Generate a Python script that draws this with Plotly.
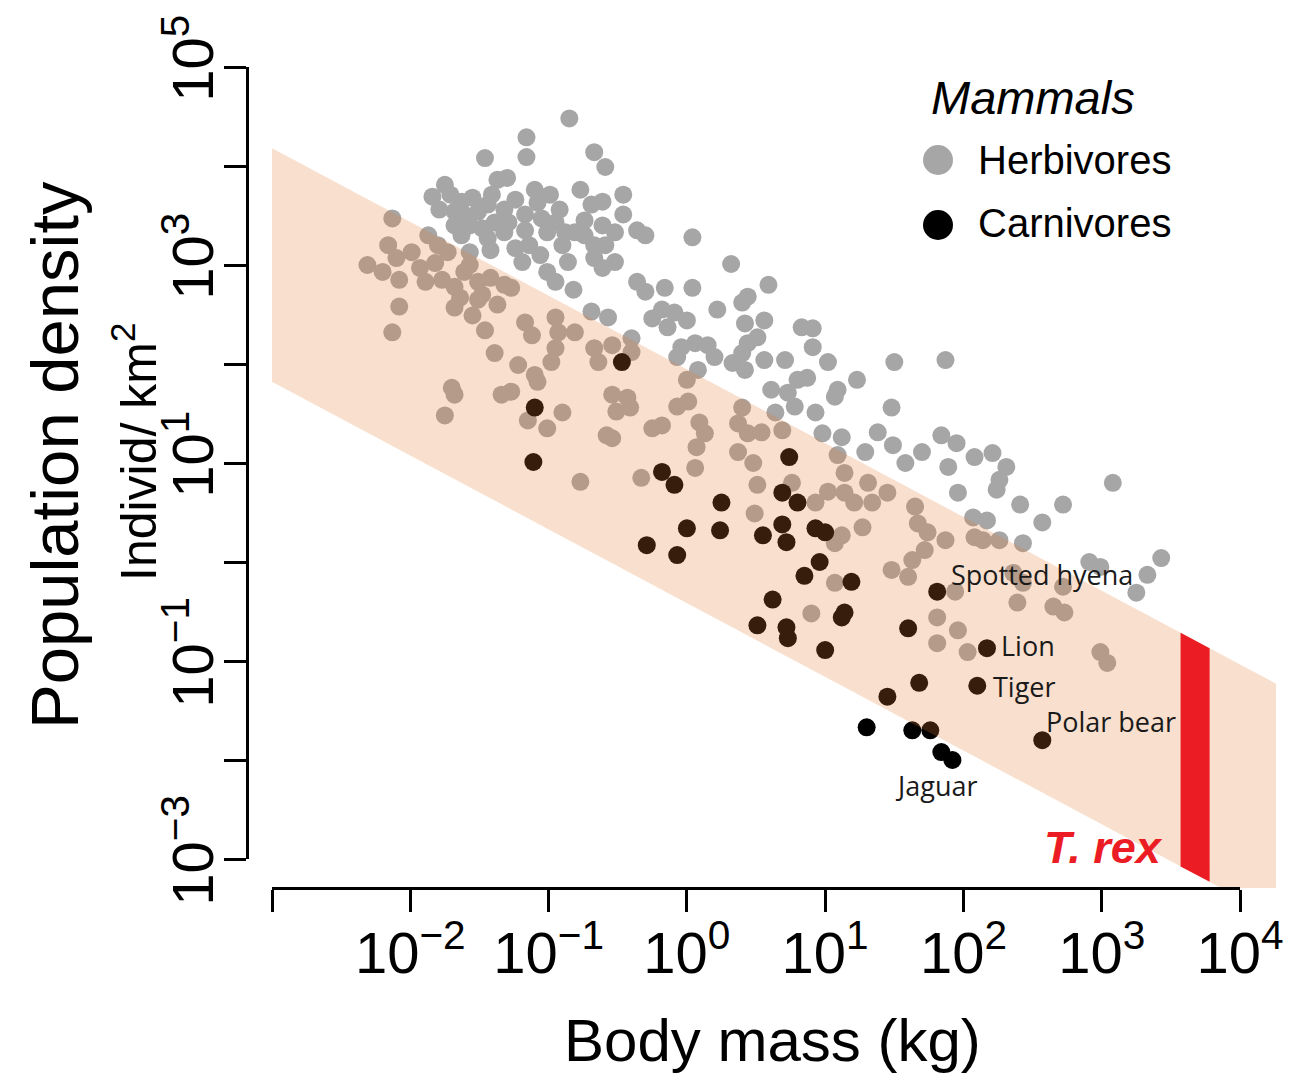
import plotly.graph_objects as go

W, H = 1306, 1074
PAGE_OFFSET = 8  # default body margin of the html page

# ---------------- data (log10 values) ----------------
herb_log_mass = (
    [-1.46, -1.75, -1.84, -1.37, -1.63, -1.55, -1.68, -1.61, -1.44, -1.41, -1.63, -1.48, -1.39]
    + [-1.79, -1.71, -1.51, -1.32, -1.57, -1.44, -1.32, -1.68, -1.57, -1.42, -1.17, -1.10, -0.99, -0.77, -0.74, -0.52, -0.74, -0.95, -1.14, -1.06]
    + [-2.13, -2.16, -1.87, -1.80, -1.73]
    + [-0.85, -1.16, -1.16, -0.67, -0.59, -1.30, -0.46, -1.24, -1.08, -0.92, -0.69, -0.61, -0.61, -0.46, -0.36, -0.30, -1.29, -1.17, -1.05, -1.01, -0.88, -0.81, -0.90, -0.67, -0.59, -1.24]
    + [-1.19, -1.01, -0.86, -0.67, -0.52, -0.61, -0.36, -0.30, -0.25, -0.82, -0.69, -0.57, -0.40, -0.95]
    + [-1.27, -1.17, -1.12, -0.95, -0.93, -0.81, -0.95, -0.98, -0.67, -0.64, -0.54, -0.40, -1.22, -1.10, -1.08, -1.27, -0.54, -0.43]
    + [-2.31, -2.20, -2.08, -2.08, -2.13, -2.10, -1.93, -1.82, -1.77, -1.68, -1.68, -1.55, -1.51, -1.48, -1.46, -1.39, -1.70, -1.68, -1.34, -1.37, -1.57]
    + [-1.99, -1.89, -1.61, -1.42, -1.32, -1.64, -1.51]
    + [0.04, 0.32, -0.16, 0.04, 0.22, 0.44, 0.59, 0.40, -0.18, -0.09, 0.00, 0.42, 0.56, 0.51, 0.44, 0.06, 0.15, -0.04, 0.83, -0.14]
    + [0.91, 0.91, 1.02, 1.50, 1.87, 1.23, 1.09, 1.07, 0.87, 1.48, 0.93, 1.38, 1.12, 0.98, 1.49, 1.29, 1.70, 1.84, 1.95, 2.08, 1.09]
    + [-0.07, 0.08, 0.20, 0.33, 0.42, 0.56, 0.71, 0.61, 0.73, 0.78, 0.64, 0.80, 0.40]
    + [0.00, -0.07, 0.01, -0.18, 0.09, 0.13, 0.07, 0.06, 0.40, 0.37, 0.44, 0.54, 0.37, 0.48, 0.51, 0.49, 0.76, 0.69]
    + [-1.75, -1.15, -1.01, -0.90, -0.58, -0.54, -0.51, -0.41, -0.77, -0.33, -0.25]
    + [1.14, 0.93, 1.02, 1.14, 1.21, 1.34, 1.31, 1.45, 1.12, 1.27, 1.07, 1.65, 1.67, 1.74, 1.72, 1.87, 1.63, 1.60, 1.48, 1.07, 0.90, 1.94, 1.81, 1.96, 2.08]
    + [1.96, 1.89, 1.58, 2.07]
    + [2.21, 2.31, 2.26, 2.24, 2.41, 2.72, 2.57, 3.08, 2.17, 2.43, 3.43, 2.91, 2.99, 3.33, 3.25]
    + [2.14, 2.26, 2.39, 2.65, 2.73, 2.99, 3.04, 2.36, 2.43, 2.72]
    + [1.81, 2.03]
)
herb_log_density = (
    [4.08, 3.81, 3.69, 3.86, 3.64, 3.68, 3.54, 3.51, 3.61, 3.71, 3.30, 3.37, 3.43]
    + [3.56, 3.71, 3.54, 3.56, 3.40, 3.27, 3.33, 3.40, 3.13, 3.15, 3.51, 3.76, 3.71, 3.76, 3.45, 3.33, 3.30, 3.43, 3.20, 3.10]
    + [3.47, 3.20, 3.30, 3.20, 3.13]
    + [4.48, 4.29, 4.09, 4.14, 3.99, 3.88, 3.71, 3.66, 3.63, 3.56, 3.61, 3.64, 3.40, 3.51, 3.35, 3.30, 3.43, 3.35, 3.47, 3.33, 3.33, 3.33, 3.20, 3.20, 3.20, 3.17]
    + [3.03, 2.93, 3.03, 3.07, 3.03, 2.97, 2.83, 2.73, 2.46, 2.75, 2.53, 2.47, 2.26, 2.83]
    + [2.77, 2.42, 2.29, 2.47, 2.32, 2.32, 2.16, 2.02, 2.16, 2.02, 2.19, 2.12, 1.99, 1.89, 1.82, 1.72, 1.69, 1.66]
    + [3.00, 2.93, 2.85, 2.58, 2.32, 3.07, 2.97, 3.02, 2.85, 2.78, 2.57, 2.49, 2.83, 2.70, 2.34, 2.11, 1.76, 1.69, 1.69, 2.60, 3.00]
    + [3.13, 2.83, 2.93, 2.87, 2.80, 2.67, 2.65]
    + [3.28, 3.01, 2.77, 2.77, 2.55, 2.68, 2.80, 2.62, 2.55, 2.52, 2.44, 2.41, 2.44, 2.27, 2.21, 2.21, 2.19, 2.17, 2.37, 2.37]
    + [2.36, 2.17, 2.02, 2.02, 2.04, 1.84, 1.74, 1.67, 1.86, 1.56, 1.51, 1.31, 1.26, 1.30, 1.18, 1.11, 1.11, 1.28, 1.20, 1.06, 1.08]
    + [2.07, 1.94, 2.07, 2.01, 1.94, 2.04, 2.04, 1.74, 1.71, 1.57, 1.51, 1.84, 2.11]
    + [1.84, 1.57, 1.62, 1.38, 1.41, 1.30, 1.16, 0.95, 1.56, 1.40, 1.30, 1.31, 1.11, 1.00, 0.78, 0.49, 0.80, 1.33]
    + [1.48, 1.43, 1.35, 1.51, 1.28, 1.25, 1.52, 1.56, 0.81, 0.85, 1.35]
    + [0.90, 0.60, 0.71, 0.70, 0.60, 0.60, 0.80, 0.70, 0.27, 0.35, 0.19, 0.56, 0.39, 0.30, 0.12, 0.22, 0.02, -0.15, -0.08, -0.21, -0.52, -0.30, -0.56, -0.69, 0.25]
    + [0.70, 0.96, 1.00, 0.45]
    + [1.10, 0.96, 0.83, 0.73, 0.58, 0.58, 0.40, 0.80, 0.42, 0.19, 0.04, 0.00, -0.05, -0.13, -0.31]
    + [0.22, 0.22, -0.41, -0.45, -0.51, -0.91, -1.02, -0.11, -0.21, -0.25]
    + [-0.82, -0.91]
)

carn_log_mass = [-0.47, -1.10, -1.11, -0.18, -0.09, 0.25, 0.74, 0.69, 0.80, 0.69,
                 0.72, 0.55, 0.00, 0.24, -0.07, -0.29, 0.85, 0.62, 0.51, 0.72,
                 0.73, 0.93, 1.00, 0.96, 1.19, 1.12, 1.14, 1.00, 1.60, 1.68,
                 1.45, 1.30, 1.63, 1.76, 1.84, 1.92, 1.81, 2.17, 2.10, 2.57]
carn_log_density = [2.02, 1.56, 1.01, 0.91, 0.78, 0.60, 1.06, 0.70, 0.60, 0.38,
                    0.20, 0.27, 0.34, 0.32, 0.07, 0.17, -0.14, -0.38, -0.64, -0.66,
                    -0.77, 0.34, 0.30, 0.00, -0.20, -0.56, -0.51, -0.89, -0.67, -1.22,
                    -1.36, -1.67, -1.70, -1.70, -1.92, -2.00, -0.30, -0.87, -1.25, -1.80]

label_names = ["Spotted hyena", "Lion", "Tiger", "Polar bear", "Jaguar"]
label_log_mass = [1.81, 2.17, 2.10, 2.57, 1.92]
label_log_density = [-0.30, -0.87, -1.25, -1.80, -2.00]

# band of expected density (log10 density = intercept + slope * (log10 mass + 3))
band_log_mass = [-3.0, 4.26]
band_upper_intercept = 4.18
band_lower_intercept = 1.82
band_slope = -0.745

trex_log_mass = [3.57, 3.78]

x_tick_exp = [-3, -2, -1, 0, 1, 2, 3, 4]
x_tick_text = ["", "10<sup>\u22122</sup>", "10<sup>\u22121</sup>", "10<sup>0</sup>",
               "10<sup>1</sup>", "10<sup>2</sup>", "10<sup>3</sup>", "10<sup>4</sup>"]
y_tick_exp = [-3, -2, -1, 0, 1, 2, 3, 4, 5]
y_tick_text = ["10<sup>\u22123</sup>", "", "10<sup>\u22121</sup>", "", "10<sup>1</sup>", "",
               "10<sup>3</sup>", "", "10<sup>5</sup>"]

assert len(herb_log_mass) == len(herb_log_density)
assert len(carn_log_mass) == len(carn_log_density)

# ---------------- helpers ----------------
def px(x):
    return (x - PAGE_OFFSET) / W

def py(y):
    return 1 - (y - PAGE_OFFSET) / H

def upper(lm):
    return band_upper_intercept + band_slope * (lm + 3)

def lower(lm):
    return band_lower_intercept + band_slope * (lm + 3)

FONT = "Liberation Sans, Arial, Helvetica, sans-serif"
LABEL_FONT = "Open Sans, Noto Sans, sans-serif"

fig = go.Figure()

fig.add_trace(go.Scatter(
    x=[10 ** v for v in herb_log_mass], y=[10 ** v for v in herb_log_density],
    mode="markers", marker=dict(size=18, color="#a6a6a6", line=dict(width=0)),
    hoverinfo="skip", showlegend=False))

fig.add_trace(go.Scatter(
    x=[10 ** v for v in carn_log_mass], y=[10 ** v for v in carn_log_density],
    mode="markers", marker=dict(size=18, color="#000000", line=dict(width=0)),
    hoverinfo="skip", showlegend=False))

bx0, bx1 = band_log_mass
fig.add_trace(go.Scatter(
    x=[10 ** bx0, 10 ** bx1, 10 ** bx1, 10 ** bx0, 10 ** bx0],
    y=[10 ** upper(bx0), 10 ** upper(bx1), 10 ** lower(bx1), 10 ** lower(bx0), 10 ** upper(bx0)],
    mode="lines", fill="toself", fillcolor="rgba(229,121,46,0.24)",
    line=dict(width=0, color="rgba(0,0,0,0)"), hoverinfo="skip", showlegend=False))

tx0, tx1 = trex_log_mass
fig.add_trace(go.Scatter(
    x=[10 ** tx0, 10 ** tx1, 10 ** tx1, 10 ** tx0, 10 ** tx0],
    y=[10 ** upper(tx0), 10 ** upper(tx1), 10 ** lower(tx1), 10 ** lower(tx0), 10 ** upper(tx0)],
    mode="lines", fill="toself", fillcolor="#ec1c24",
    line=dict(width=0, color="rgba(0,0,0,0)"), hoverinfo="skip", showlegend=False))

# invisible trace to create the axis-only subplot
fig.add_trace(go.Scatter(x=[10 ** x_tick_exp[0]], y=[10 ** y_tick_exp[0]], xaxis="x2", yaxis="y2",
                         mode="markers", marker=dict(opacity=0), hoverinfo="skip", showlegend=False))

axis_common = dict(showline=True, linecolor="black", linewidth=2.5, ticks="outside",
                   ticklen=22, tickwidth=2.5, tickcolor="black", showgrid=False,
                   zeroline=False, tickmode="array", type="log", automargin=False,
                   tickfont=dict(family=FONT, size=58, color="black"))

fig.update_layout(
    width=W, height=H, margin=dict(l=0, r=0, t=0, b=0, pad=0, autoexpand=False),
    paper_bgcolor="white", plot_bgcolor="rgba(0,0,0,0)", showlegend=False,
    xaxis=dict(domain=[px(272), px(1276)], type="log", range=[-3, 4.26], visible=False,
               automargin=False),
    yaxis=dict(domain=[py(888), py(67)], type="log", range=[-3.293, 5], visible=False,
               automargin=False),
    xaxis2=dict(domain=[px(272), px(1240)], range=[-3, 4], anchor="free", position=py(888),
                ticklabelstandoff=-8,
                tickvals=[10 ** e for e in x_tick_exp], ticktext=x_tick_text, **axis_common),
    yaxis2=dict(domain=[py(859), py(67)], range=[-3, 5], anchor="free", position=px(247),
                side="left", tickangle=-90, ticklabelstandoff=-12,
                tickvals=[10 ** e for e in y_tick_exp], ticktext=y_tick_text, **axis_common),
)

def paper_text(text, x, y, size, xanchor="center", angle=0, color="black", family=FONT):
    return dict(text=text, x=px(x), y=py(y), xref="paper", yref="paper", xanchor=xanchor,
                yanchor="middle", textangle=angle, showarrow=False,
                font=dict(family=family, size=size, color=color))

annotations = [
    paper_text("Body mass (kg)", 772, 1040, 60),
    paper_text("Population density", 55, 455, 67, angle=-90),
    paper_text("Individ/ km<sup>2</sup>", 135, 452, 50, angle=-90),
    paper_text("<i>Mammals</i>", 1033, 97, 47),
    paper_text("Herbivores", 976, 160, 40, xanchor="left"),
    paper_text("Carnivores", 976, 223, 40, xanchor="left"),
]

# species labels (offsets in pixels relative to the point)
label_offsets = {
    "Spotted hyena": dict(xanchor="left", xshift=12, yshift=17),
    "Lion": dict(xanchor="left", xshift=12, yshift=3),
    "Tiger": dict(xanchor="left", xshift=14, yshift=-1),
    "Polar bear": dict(xanchor="left", xshift=2, yshift=19),
    "Jaguar": dict(xanchor="center", xshift=-16, yshift=-26),
}
for name, lm, ld in zip(label_names, label_log_mass, label_log_density):
    annotations.append(dict(text=name, x=lm, y=ld, xref="x", yref="y", showarrow=False,
                            yanchor="middle",
                            font=dict(family=LABEL_FONT, size=27, color="#1a1a1a"),
                            **label_offsets[name]))

annotations.append(dict(text="<b><i>T. rex</i></b>", x=trex_log_mass[0], y=-2.88, xref="x", yref="y",
                        xanchor="right", yanchor="middle", xshift=-16, showarrow=False,
                        font=dict(family=FONT, size=45, color="#ec1c24")))

fig.update_layout(annotations=annotations)

# legend symbols
shapes = [
    dict(type="circle", xref="paper", yref="paper", x0=px(923), x1=px(953), y0=py(175), y1=py(145),
         fillcolor="#a6a6a6", line=dict(width=0)),
    dict(type="circle", xref="paper", yref="paper", x0=px(923), x1=px(953), y0=py(240), y1=py(210),
         fillcolor="#000000", line=dict(width=0)),
]
fig.update_layout(shapes=shapes)

fig.write_html("out.html")
